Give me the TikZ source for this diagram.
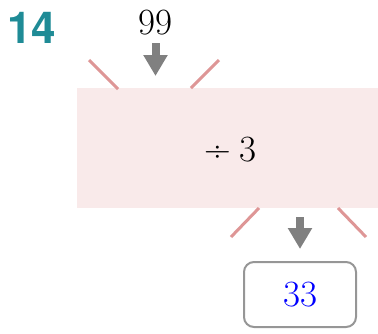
\documentclass[tikz,border=0pt]{standalone}
\usepackage{fontspec}
\newfontfamily\headfont{TeX Gyre Heros}
\usetikzlibrary{arrows.meta}
\definecolor{teal14}{RGB}{31,139,150}
\definecolor{pinkfill}{RGB}{249,234,234}
\definecolor{rayc}{RGB}{222,150,150}
\definecolor{arrowgray}{RGB}{128,128,128}
\definecolor{boxgray}{RGB}{150,150,150}
\tikzset{
  ray/.style={draw=rayc, line width=3pt},
  bigarrow/.style={draw=arrowgray, line width=8pt, -{Triangle[width=23pt,length=21pt]}, shorten >=0pt},
  numtxt/.style={inner sep=0pt, font=\fontsize{37}{40}\selectfont},
}
\begin{document}
\begin{tikzpicture}[x=1pt,y=-1pt]
\useasboundingbox (0,0) rectangle (378,333);
\node[inner sep=0pt, text=teal14, font=\headfont\bfseries\fontsize{44}{46}\selectfont] (num) at (31.5,28) {14};
\node[numtxt, anchor=base] (in) at (155.5,34.5) {99};
\node[fill=pinkfill, minimum width=301pt, minimum height=120pt, inner sep=0pt, anchor=north west] (op) at (77,88) {};
\node[numtxt, anchor=base] (optxt) at (230.5,161.5) {÷\hspace{8pt}3};
\node[draw=boxgray, line width=2pt, rounded corners=10pt, minimum width=112pt, minimum height=65pt, inner sep=0pt] (out) at (300,294.5) {};
\node[numtxt, anchor=base, text=blue] (outtxt) at (300,306.5) {33};
% rays
\coordinate (r1a) at (89,60); \coordinate (r1b) at (118,89);
\coordinate (r2a) at (219,60); \coordinate (r2b) at (191,88);
\coordinate (r3a) at (259,208); \coordinate (r3b) at (231,237);
\coordinate (r4a) at (338,208); \coordinate (r4b) at (366,237);
\draw[ray] (r1a) -- (r1b);
\draw[ray] (r2a) -- (r2b);
\draw[ray] (r3a) -- (r3b);
\draw[ray] (r4a) -- (r4b);
% arrows
\coordinate (a1s) at (155.5,43); \coordinate (a1e) at (155.5,76);
\coordinate (a2s) at (300,217); \coordinate (a2e) at (300,249);
\draw[bigarrow] (a1s) -- (a1e);
\draw[bigarrow] (a2s) -- (a2e);
\end{tikzpicture}
\end{document}
